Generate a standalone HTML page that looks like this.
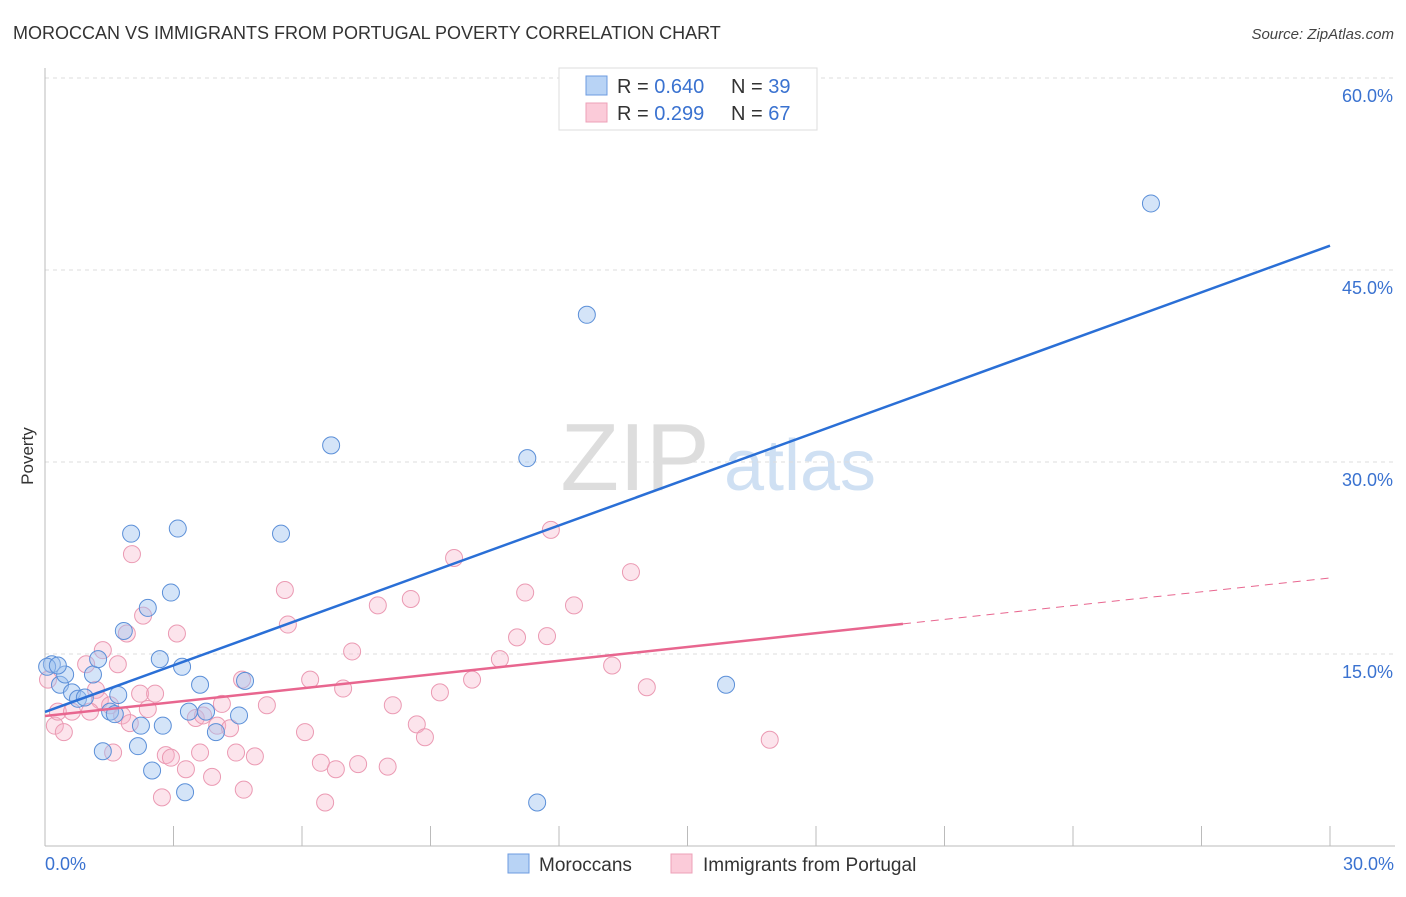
<!DOCTYPE html>
<html><head><meta charset="utf-8"><style>
body{margin:0;background:#fff;font-family:"Liberation Sans",sans-serif;}
svg text{font-family:"Liberation Sans",sans-serif;}
</style></head><body>
<svg id="chart" width="1406" height="892" xmlns="http://www.w3.org/2000/svg">
<text x="13" y="39" font-size="18" fill="#333">MOROCCAN VS IMMIGRANTS FROM PORTUGAL POVERTY CORRELATION CHART</text>
<text x="1394" y="39" font-size="15" fill="#444" text-anchor="end" font-style="italic">Source: ZipAtlas.com</text>
<text x="33" y="456" font-size="17" fill="#333" transform="rotate(-90 33 456)" text-anchor="middle">Poverty</text>
<g><text x="635" y="490" font-size="96" fill="#ddd" font-family="Liberation Serif" text-anchor="middle">ZIP</text><text x="800" y="490" font-size="72" fill="#cfe0f3" text-anchor="middle">atlas</text></g>
<g id="grid"></g><g id="marks"></g>
<g>
<rect x="559" y="68" width="258" height="62" fill="#fff" stroke="#ddd"/>
<rect x="586" y="76" width="21" height="19" fill="#b8d3f5" stroke="#6c9be0"/>
<rect x="586" y="103" width="21" height="19" fill="#fbcbd9" stroke="#eea0b8"/>
<text x="617" y="93" font-size="20" fill="#333">R = <tspan fill="#3a72d0">0.640</tspan></text>
<text x="731" y="93" font-size="20" fill="#333">N = <tspan fill="#3a72d0">39</tspan></text>
<text x="617" y="120" font-size="20" fill="#333">R = <tspan fill="#3a72d0"> 0.299</tspan></text>
<text x="731" y="120" font-size="20" fill="#333">N = <tspan fill="#3a72d0">67</tspan></text>
</g>
<g>
<rect x="508" y="854" width="21" height="19" fill="#b8d3f5" stroke="#6c9be0"/>
<text x="539" y="871" font-size="19" fill="#333">Moroccans</text>
<rect x="671" y="854" width="21" height="19" fill="#fbcbd9" stroke="#eea0b8"/>
<text x="703" y="871" font-size="19" fill="#333">Immigrants from Portugal</text>
</g>
</svg>
<script>
const yTicks=[15,30,45,60];
const yTickLabels=["15.0%","30.0%","45.0%","60.0%"];
const xLabels=["0.0%","30.0%"];
const blueX=[0.16,0.35,0.47,0.63,0.77,0.93,1.12,1.24,1.52,1.63,1.71,1.35,1.84,2.01,2.17,2.24,2.40,2.50,2.68,2.75,2.94,3.10,3.20,3.27,3.36,3.62,3.76,3.99,4.53,4.67,5.51,6.68,11.26,11.49,12.65,15.90,25.82,0.05,0.30];
const blueY=[14.2,12.6,13.4,12.0,11.5,11.6,13.4,14.6,10.5,10.3,11.8,7.4,16.8,24.4,7.8,9.4,18.6,5.9,14.6,9.4,19.8,24.8,14.0,4.2,10.5,12.6,10.5,8.9,10.2,12.9,24.4,31.3,30.3,3.4,41.5,12.6,50.2,14.0,14.1];
const pinkX=[0.07,0.23,0.30,0.44,0.63,0.96,1.19,1.28,1.35,1.52,1.59,1.70,1.80,1.91,2.03,2.22,2.29,2.40,2.57,2.73,2.82,2.94,3.08,3.29,3.52,3.62,3.69,3.90,4.02,4.13,4.46,4.60,4.64,4.90,5.18,5.60,5.67,6.07,6.19,6.44,6.79,6.96,7.17,7.31,7.77,8.00,8.12,8.54,8.68,8.87,9.22,9.55,9.97,10.62,11.02,11.21,11.72,11.81,12.35,13.24,13.68,14.05,16.92,6.54,4.32,1.98,1.05];
const pinkY=[13.0,9.4,10.5,8.9,10.5,14.2,12.2,11.4,15.3,11.0,7.3,14.2,10.2,16.6,22.8,11.9,18.0,10.7,11.9,3.8,7.1,6.9,16.6,6.0,10.0,7.3,10.2,5.4,9.4,11.1,7.3,13.0,4.4,7.0,11.0,20.0,17.3,8.9,13.0,6.5,6.0,12.3,15.2,6.4,18.8,6.2,11.0,19.3,9.5,8.5,12.0,22.5,13.0,14.6,16.3,19.8,16.4,24.7,18.8,14.1,21.4,12.4,8.3,3.4,9.2,9.6,10.5];
const blueTrend=[10.47,46.9];
const pinkTrend=[10.16,20.94];
const pinkSolidEnd=20.03;
const X=v=>45+v/30*1285, Y=v=>846-v/15*192;
const NS="http://www.w3.org/2000/svg";
function mk(p,tag,a){const e=document.createElementNS(NS,tag);for(const k in a)e.setAttribute(k,a[k]);p.appendChild(e);return e;}
const grid=document.getElementById('grid'),marks=document.getElementById('marks');
yTicks.forEach((t,i)=>{
 const l=mk(grid,'line',{x1:45,x2:1395,y1:Y(t),y2:Y(t),stroke:'#ddd','stroke-dasharray':'4,4'});
 
 
 const tx=mk(grid,'text',{x:1393,y:Y(t)+24,'font-size':18,fill:'#3a72d0','text-anchor':'end'});tx.textContent=yTickLabels[i];
 
 
});
const ax=mk(grid,'line',{x1:45,x2:1395,y1:846,y2:846,stroke:'#bbb'});


const ay=mk(grid,'line',{x1:45,x2:45,y1:68,y2:846,stroke:'#bbb'});


for(let i=0;i<=10;i++){const t=mk(grid,'line',{x1:X(i*3),x2:X(i*3),y1:826,y2:846,stroke:'#bbb'});
 
 }
[[0,'start',45],[30,'end',1394]].forEach((d,i)=>{const t=mk(grid,'text',{x:d[2],y:870,'font-size':18,fill:'#3a72d0','text-anchor':d[1]});t.textContent=xLabels[i];
 
 });
pinkX.forEach((x,i)=>{const c=mk(marks,'circle',{cx:X(x),cy:Y(pinkY[i]),r:8.5,fill:'rgba(246,178,200,0.35)',stroke:'#eb9ab3','stroke-width':1});
 
 });
blueX.forEach((x,i)=>{const c=mk(marks,'circle',{cx:X(x),cy:Y(blueY[i]),r:8.5,fill:'rgba(160,196,240,0.45)',stroke:'#5b8fd8','stroke-width':1});
 
 });
const bl=mk(marks,'line',{x1:X(0),y1:Y(blueTrend[0]),x2:X(30),y2:Y(blueTrend[1]),stroke:'#2a6fd6','stroke-width':2.5});


const pm=pinkTrend[0]+(pinkTrend[1]-pinkTrend[0])*pinkSolidEnd/30;
const pl=mk(marks,'line',{x1:X(0),y1:Y(pinkTrend[0]),x2:X(pinkSolidEnd),y2:Y(pm),stroke:'#e8668f','stroke-width':2.5});


const pd=mk(marks,'line',{x1:X(pinkSolidEnd),y1:Y(pm),x2:X(30),y2:Y(pinkTrend[1]),stroke:'#e8668f','stroke-width':1,'stroke-dasharray':'8,6'});


</script>
</body></html>
